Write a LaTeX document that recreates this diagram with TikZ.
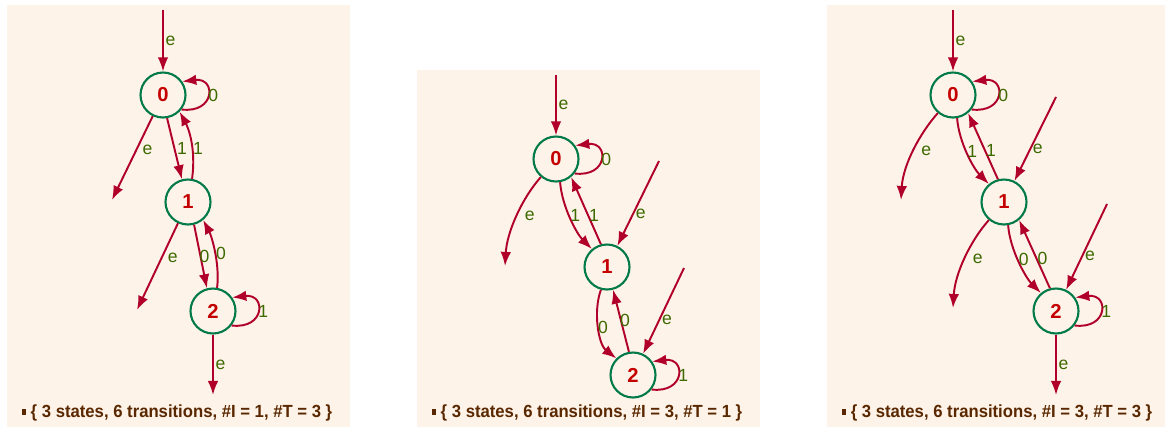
\documentclass[tikz,border=0pt]{standalone}
\usepackage{fontspec}
\setmainfont{Liberation Sans}
\usepackage{tikz}
\usetikzlibrary{arrows.meta}
\usetikzlibrary{positioning}
\usepackage{xcolor}
\definecolor{bgpanel}{HTML}{FEF3E8}
\definecolor{edgered}{HTML}{B0002A}
\definecolor{stategreen}{HTML}{007A48}
\definecolor{statered}{HTML}{C40000}
\definecolor{labgreen}{HTML}{3D6A00}
\definecolor{captbrown}{HTML}{5A2800}

\begin{document}
\begin{tikzpicture}[x=0.02cm, y=-0.02cm]
      \tikzstyle{state}=[circle, draw=stategreen, line width=1.2pt, minimum size=0.9cm, inner sep=0pt,
                         text=statered, font=\fontsize{11.5}{13}\selectfont\bfseries]
      \tikzstyle{trans}=[draw=edgered, line width=1.1pt, -{Latex[length=8pt,width=6pt]}]
      \tikzstyle{lab}=[text=labgreen, inner sep=1pt, font=\fontsize{10}{11}\selectfont]
      \tikzstyle{caption}=[text=captbrown, inner sep=0pt, font=\fontsize{10}{12}\selectfont\bfseries]
      \useasboundingbox (0,0) rectangle (1165,427);

      % left: #I = 1, #T = 3
      \fill[bgpanel] (7,5) rectangle (350,427);
      \node[state] (a0) at (163,95)  {0};
      \node[state] (a1) at (188,202) {1};
      \node[state] (a2) at (213,311) {2};
      \coordinate (ai0) at (163,10);
      \coordinate (ao0) at (112,200);
      \coordinate (ao1) at (137,310);
      \coordinate (ao2) at (213,395);

      \draw[trans] (ai0) -- (a0) node[lab,right,midway] {e};
      \draw[trans] (a0.-38) .. controls +(34,4) and +(34,-4) .. (a0.35) node[lab,right=-1pt,midway] {0};
      \draw[trans] (a0) -- (ao0) node[lab,right=2pt,pos=0.4] {e};
      \draw[trans] (a0.-80) -- (a1.105) node[lab,right=0pt,midway] {1};
      \draw[trans] (a1.80) .. controls +(4,-30) and +(9,17) .. (a0.-45) node[lab,right=-1pt,pos=0.38] {1};
      \draw[trans] (a1) -- (ao1) node[lab,right=2pt,pos=0.4] {e};
      \draw[trans] (a1.-75) -- (a2.105) node[lab,right=-2pt,midway] {0};
      \draw[trans] (a2.80) .. controls +(3,-25) and +(8,15) .. (a1.-50) node[lab,right=-1pt,pos=0.45] {0};
      \draw[trans] (a2.-38) .. controls +(34,4) and +(34,-4) .. (a2.35) node[lab,right=-1pt,midway] {1};
      \draw[trans] (a2) -- (ao2) node[lab,right,midway] {e};
      \node[caption] (capa) at (177,413) {\scalebox{0.95}[1]{\rule[1.5pt]{2.6pt}{3.6pt} \{ 3 states, 6 transitions, \#I = 1, \#T = 3 \}}};

      % middle: #I = 3, #T = 1
      \fill[bgpanel] (417,70) rectangle (760,427);
      \node[state] (b0) at (556,159) {0};
      \node[state] (b1) at (607,267) {1};
      \node[state] (b2) at (633,375) {2};
      \coordinate (bi0) at (556,75);
      \coordinate (bi1) at (659,161);
      \coordinate (bi2) at (684,268);
      \coordinate (bo0) at (505,266);

      \draw[trans] (bi0) -- (b0) node[lab,right,midway] {e};
      \draw[trans] (b0.-38) .. controls +(34,4) and +(34,-4) .. (b0.35) node[lab,right=-1pt,midway] {0};
      \draw[trans] (b0.-130) .. controls +(-18,20) and +(2,-35) .. (bo0) node[lab,right=3pt,midway] {e};
      \draw[trans] (b0.-80) .. controls +(2,25) and +(-15,-15) .. (b1.130) node[lab,right=-1pt,pos=0.45] {1};
      \draw[trans] (b1.105) -- (b0.-50) node[lab,right=-1pt,pos=0.43] {1};
      \draw[trans] (bi1) -- (b1) node[lab,right=0pt,pos=0.62] {e};
      \draw[trans] (b1.-105) .. controls +(-8,22) and +(-18,-14) .. (b2.135) node[lab,right=-2pt,midway] {0};
      \draw[trans] (b2.100) -- (b1.-75) node[lab,right=-2pt,midway] {0};
      \draw[trans] (bi2) -- (b2) node[lab,right=0pt,pos=0.6] {e};
      \draw[trans] (b2.-38) .. controls +(34,4) and +(34,-4) .. (b2.35) node[lab,right=-1pt,midway] {1};
      \node[caption] (capb) at (587,413) {\scalebox{0.95}[1]{\rule[1.5pt]{2.6pt}{3.6pt} \{ 3 states, 6 transitions, \#I = 3, \#T = 1 \}}};

      % right: #I = 3, #T = 3
      \fill[bgpanel] (827,5) rectangle (1165,427);
      \node[state] (c0) at (953,95)   {0};
      \node[state] (c1) at (1004,202) {1};
      \node[state] (c2) at (1056,311) {2};
      \coordinate (ci0) at (953,10);
      \coordinate (ci1) at (1056,97);
      \coordinate (ci2) at (1107,204);
      \coordinate (co0) at (901,200);
      \coordinate (co1) at (953,308);
      \coordinate (co2) at (1056,395);

      \draw[trans] (ci0) -- (c0) node[lab,right,midway] {e};
      \draw[trans] (c0.-38) .. controls +(34,4) and +(34,-4) .. (c0.35) node[lab,right=-1pt,midway] {0};
      \draw[trans] (c0.-130) .. controls +(-18,20) and +(2,-35) .. (co0) node[lab,right=3pt,midway] {e};
      \draw[trans] (c0.-80) .. controls +(2,25) and +(-15,-15) .. (c1.130) node[lab,right=-1pt,pos=0.45] {1};
      \draw[trans] (c1.105) -- (c0.-50) node[lab,right=-1pt,pos=0.43] {1};
      \draw[trans] (ci1) -- (c1) node[lab,right=0pt,pos=0.62] {e};
      \draw[trans] (c1.-130) .. controls +(-18,20) and +(2,-35) .. (co1) node[lab,right=3pt,midway] {e};
      \draw[trans] (c1.-80) .. controls +(2,25) and +(-15,-15) .. (c2.130) node[lab,right=-1pt,pos=0.45] {0};
      \draw[trans] (c2.105) -- (c1.-50) node[lab,right=-1pt,pos=0.43] {0};
      \draw[trans] (ci2) -- (c2) node[lab,right=0pt,pos=0.6] {e};
      \draw[trans] (c2.-38) .. controls +(34,4) and +(34,-4) .. (c2.35) node[lab,right=-1pt,midway] {1};
      \draw[trans] (c2) -- (co2) node[lab,right,midway] {e};
      \node[caption] (capc) at (997,413) {\scalebox{0.95}[1]{\rule[1.5pt]{2.6pt}{3.6pt} \{ 3 states, 6 transitions, \#I = 3, \#T = 3 \}}};
\end{tikzpicture}
\end{document}
